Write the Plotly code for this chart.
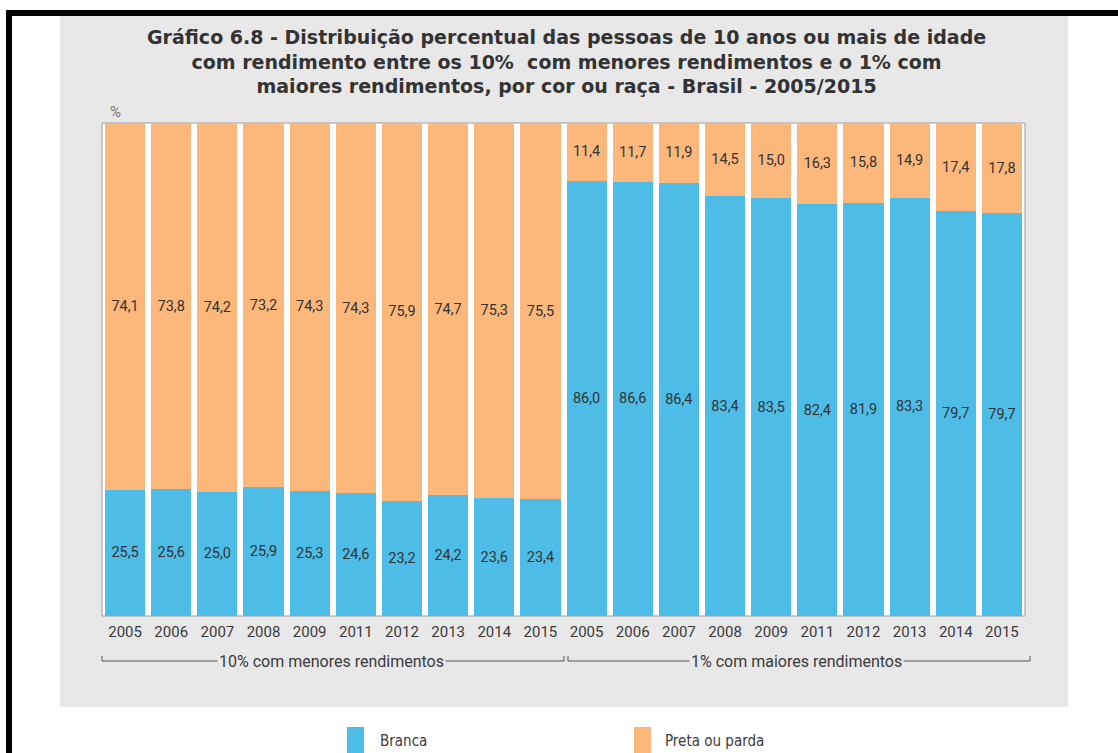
import plotly.graph_objects as go

# ---- data ----
years = ["2005", "2006", "2007", "2008", "2009", "2011", "2012", "2013", "2014", "2015"]
groups = ["10% com menores rendimentos", "1% com maiores rendimentos"]
branca_10 = [25.5, 25.6, 25.0, 25.9, 25.3, 24.6, 23.2, 24.2, 23.6, 23.4]
preta_10 = [74.1, 73.8, 74.2, 73.2, 74.3, 74.3, 75.9, 74.7, 75.3, 75.5]
branca_1 = [86.0, 86.6, 86.4, 83.4, 83.5, 82.4, 81.9, 83.3, 79.7, 79.7]
preta_1 = [11.4, 11.7, 11.9, 14.5, 15.0, 16.3, 15.8, 14.9, 17.4, 17.8]
series_names = ["Branca", "Preta ou parda"]
title_lines = [
    "Gráfico 6.8 - Distribuição percentual das pessoas de 10 anos ou mais de idade",
    "com rendimento entre os 10%  com menores rendimentos e o 1% com",
    "maiores rendimentos, por cor ou raça - Brasil - 2005/2015",
]

branca = branca_10 + branca_1
preta = preta_10 + preta_1
ticktext = years + years
xpos = list(range(len(ticktext)))
totals = [b + p for b, p in zip(branca, preta)]
branca_h = [b / t * 100 for b, t in zip(branca, totals)]
preta_h = [p / t * 100 for p, t in zip(preta, totals)]

BLUE = "#4dbde8"
ORANGE = "#fcb77b"
TXT = "#3a3a3a"

W, H = 1118, 753
L, R, T, B = 102, 93, 123, 137
PW, PH = W - L - R, H - T - B


def px(x):
    return (x - L) / PW


def py(y):
    return (H - B - y) / PH


fig = go.Figure()
for name, h, v, col in [("Branca", branca_h, branca, BLUE), ("Preta ou parda", preta_h, preta, ORANGE)]:
    fig.add_trace(go.Bar(
        x=xpos, y=h, name=name, marker=dict(color=col, line=dict(width=0)),
        customdata=v, texttemplate="%{customdata:.1f}", textposition="inside",
        insidetextanchor="middle", textangle=0, constraintext="none",
        textfont=dict(family="Roboto", size=14.5, color="#333333"),
        hovertemplate=name + ": %{customdata:.1f}<extra></extra>",
    ))

shapes = []
# black frame parts
shapes.append(dict(type="rect", xref="paper", yref="paper", x0=px(6), x1=px(1118), y0=py(16), y1=py(10),
                   fillcolor="black", line=dict(width=0), layer="below"))
shapes.append(dict(type="rect", xref="paper", yref="paper", x0=px(6), x1=px(12), y0=py(753), y1=py(10),
                   fillcolor="black", line=dict(width=0), layer="below"))
# gray panel
shapes.append(dict(type="rect", xref="paper", yref="paper", x0=px(60), x1=px(1068), y0=py(707), y1=py(16),
                   fillcolor="#e8e8e8", line=dict(width=0), layer="below"))
# white plot area with thin border
shapes.append(dict(type="rect", xref="paper", yref="paper", x0=0, x1=1, y0=0, y1=1,
                   fillcolor="white", line=dict(color="#9a9a9a", width=1), layer="below"))
# brackets
by = py(661)
bt = py(656)
for (x0, x1) in [(102, 564), (568, 1030)]:
    shapes.append(dict(type="path", xref="paper", yref="paper",
                       path=f"M {px(x0)},{bt} L {px(x0)},{by} L {px(x1)},{by} L {px(x1)},{bt}",
                       line=dict(color="#555555", width=1)))
# legend markers
for (x0, col) in [(347, BLUE), (634, ORANGE)]:
    shapes.append(dict(type="rect", xref="paper", yref="paper", x0=px(x0), x1=px(x0 + 17),
                       y0=py(753), y1=py(727), fillcolor=col, line=dict(width=0)))

annotations = []
annotations.append(dict(text="<b>" + "<br>".join(title_lines) + "</b>", xref="paper", yref="paper",
                        x=px(566), y=py(62), xanchor="center", yanchor="middle", align="center",
                        showarrow=False, font=dict(family="DejaVu Sans", size=19, color="#333333")))
annotations.append(dict(text="%", xref="paper", yref="paper", x=px(108), y=py(112), xanchor="left",
                        yanchor="middle", showarrow=False, font=dict(family="Roboto", size=15, color="#777777")))
for g, cx in zip(groups, [331, 796]):
    annotations.append(dict(text=g, xref="paper", yref="paper", x=px(cx), y=by, xanchor="center",
                            yanchor="middle", showarrow=False, bgcolor="#e8e8e8", borderpad=1,
                            font=dict(family="Roboto", size=16, color=TXT)))
for name, x0 in zip(series_names, [378, 663]):
    annotations.append(dict(text=name, xref="paper", yref="paper", x=px(x0), y=py(741), xanchor="left",
                            yanchor="middle", showarrow=False,
                            font=dict(family="Liberation Sans Narrow, DejaVu Sans Condensed, Roboto", size=15,
                                      color=TXT)))

fig.update_layout(
    width=W, height=H, margin=dict(l=L, r=R, t=T, b=B, pad=0),
    barmode="stack", bargap=0.13, showlegend=False,
    paper_bgcolor="white", plot_bgcolor="rgba(0,0,0,0)",
    separators=",.", shapes=shapes, annotations=annotations,
    xaxis=dict(range=[-0.5, len(xpos) - 0.5], tickvals=xpos, ticktext=ticktext, ticks="",
               showgrid=False, zeroline=False, showline=False, ticklabelstandoff=5,
               tickfont=dict(family="Roboto", size=15, color=TXT)),
    yaxis=dict(range=[0, 100], visible=False, fixedrange=True),
)

fig.write_html("out.html")
